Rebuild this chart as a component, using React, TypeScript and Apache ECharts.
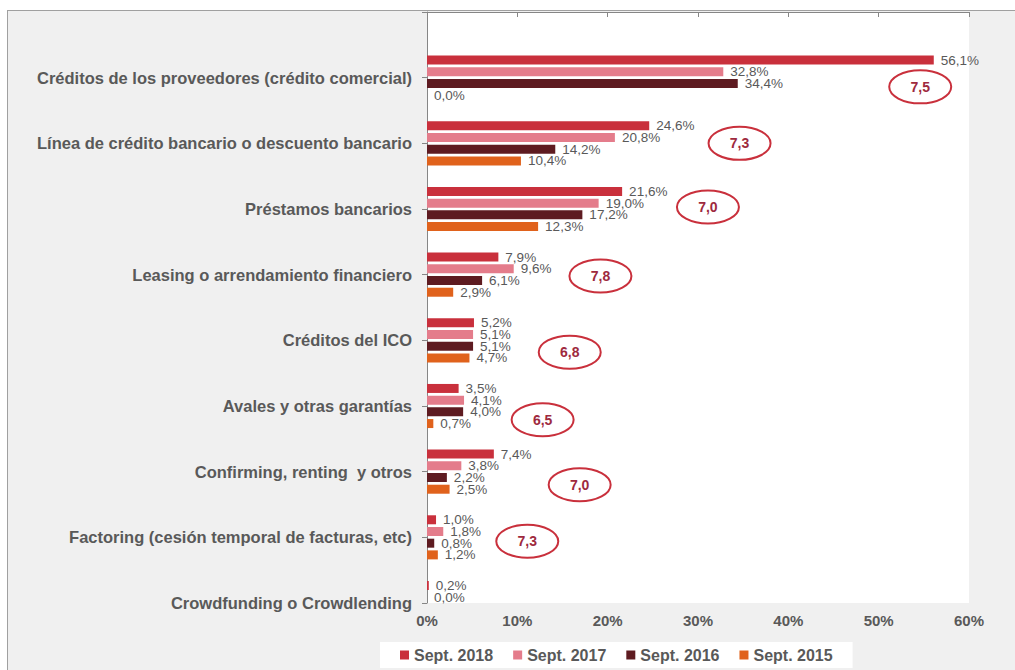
import React, { useEffect, useRef } from "react";
import * as echarts from "echarts";

const categories = [
  "",
  "Créditos de los proveedores (crédito comercial)",
  "Línea de crédito bancario o descuento bancario",
  "Préstamos bancarios",
  "Leasing o arrendamiento financiero",
  "Créditos del ICO",
  "Avales y otras garantías",
  "Confirming, renting  y otros",
  "Factoring (cesión temporal de facturas, etc)",
  "Crowdfunding o Crowdlending",
];
const sept2018 = [null, 56.1, 24.6, 21.6, 7.9, 5.2, 3.5, 7.4, 1.0, 0.2];
const sept2017 = [null, 32.8, 20.8, 19.0, 9.6, 5.1, 4.1, 3.8, 1.8, 0.0];
const sept2016 = [null, 34.4, 14.2, 17.2, 6.1, 5.1, 4.0, 2.2, 0.8, null];
const sept2015 = [null, 0.0, 10.4, 12.3, 2.9, 4.7, 0.7, 2.5, 1.2, null];
const seriesNames = ["Sept. 2018", "Sept. 2017", "Sept. 2016", "Sept. 2015"];
const xTicks = [0, 10, 20, 30, 40, 50, 60];

// Valoración media (scores shown in the red ellipses)
const scores = [7.5, 7.3, 7.0, 7.8, 6.8, 6.5, 7.0, 7.3];
const scoreX = [54.6, 34.6, 31.1, 19.2, 15.8, 12.8, 16.9, 11.1];
const scoreY = [1.14, 2.0, 2.97, 4.02, 5.18, 6.21, 7.2, 8.06];

const colors = ["#c9303c", "#e47c8b", "#5e1b21", "#e0621c"];
const FONT = "'Liberation Sans', Arial, sans-serif";
const fmt = (v: number) => v.toFixed(1).replace(".", ",");

export default function App() {
  const ref = useRef<HTMLDivElement>(null);
  useEffect(() => {
    document.body.style.margin = "0";
    const chart = echarts.init(ref.current!, null, { renderer: "svg" });
    const seriesData = [sept2018, sept2017, sept2016, sept2015];
    const bars = seriesNames.map((name, i) => ({
      name,
      type: "bar",
      data: seriesData[i],
      barWidth: 9,
      barGap: "30%",
      itemStyle: { color: colors[i] },
      label: {
        show: true,
        position: "right",
        distance: 7,
        color: "#595959",
        fontSize: 13.5,
        fontFamily: FONT,
        formatter: (p: any) => fmt(p.value) + "%",
      },
    }));
    chart.setOption({
      animation: false,
      textStyle: { fontFamily: FONT },
      grid: {
        left: 427,
        right: 46,
        top: 12,
        bottom: 67,
        show: true,
        backgroundColor: "#ffffff",
        borderWidth: 0,
      },
      legend: {
        data: seriesNames,
        left: 380,
        top: 642,
        width: 478,
        padding: [5, 20, 5, 20],
        backgroundColor: "#ffffff",
        itemWidth: 9,
        itemHeight: 9,
        itemGap: 20,
        icon: "rect",
        textStyle: { fontSize: 16, fontWeight: "bold", color: "#595959", fontFamily: FONT },
      },
      xAxis: {
        type: "value",
        min: xTicks[0],
        max: xTicks[xTicks.length - 1],
        interval: 10,
        splitLine: { show: false },
        axisLine: { show: true, lineStyle: { color: "#868686" } },
        axisTick: { show: true, length: 5, lineStyle: { color: "#868686" } },
        axisLabel: {
          formatter: "{value}%",
          color: "#595959",
          fontSize: 15,
          fontWeight: "bold",
          margin: 10,
        },
      },
      yAxis: [
        {
          type: "category",
          data: categories,
          inverse: true,
          boundaryGap: false,
          axisLine: { show: true, lineStyle: { color: "#868686" } },
          axisTick: { show: true, length: 5, lineStyle: { color: "#868686" } },
          axisLabel: {
            color: "#595959",
            fontSize: 16.5,
            fontWeight: "bold",
            margin: 15,
          },
          splitLine: { show: false },
        },
        {
          type: "value",
          min: 0,
          max: 9,
          inverse: true,
          show: false,
        },
      ],
      series: [
        ...bars,
        {
          name: "Valoración",
          type: "custom",
          xAxisIndex: 0,
          yAxisIndex: 1,
          encode: { x: 0, y: 1 },
          data: scores.map((s, i) => [scoreX[i], scoreY[i], s]),
          renderItem: (params: any, api: any) => {
            const p = api.coord([api.value(0), api.value(1)]);
            return {
              type: "group",
              children: [
                {
                  type: "ellipse",
                  shape: { cx: p[0], cy: p[1], rx: 31, ry: 16.5 },
                  style: { fill: "none", stroke: "#c9303c", lineWidth: 2 },
                },
                {
                  type: "text",
                  style: {
                    text: fmt(api.value(2)),
                    x: p[0],
                    y: p[1],
                    align: "center",
                    verticalAlign: "middle",
                    fill: "#9e2a3e",
                    font: `bold 14px ${FONT}`,
                  },
                },
              ],
            };
          },
        },
      ],
    });
    return () => chart.dispose();
  }, []);
  return (
    <div style={{ position: "relative", width: 1015, height: 670, background: "#ffffff", overflow: "hidden" }}>
      <div
        style={{
          position: "absolute",
          left: 7,
          top: 10,
          width: 1020,
          height: 680,
          background: "#f0f0f0",
          borderLeft: "1px solid #a0a0a0",
          borderTop: "1px solid #a0a0a0",
        }}
      />
      <div ref={ref} style={{ position: "absolute", left: 0, top: 0, width: 1015, height: 670 }} />
    </div>
  );
}
